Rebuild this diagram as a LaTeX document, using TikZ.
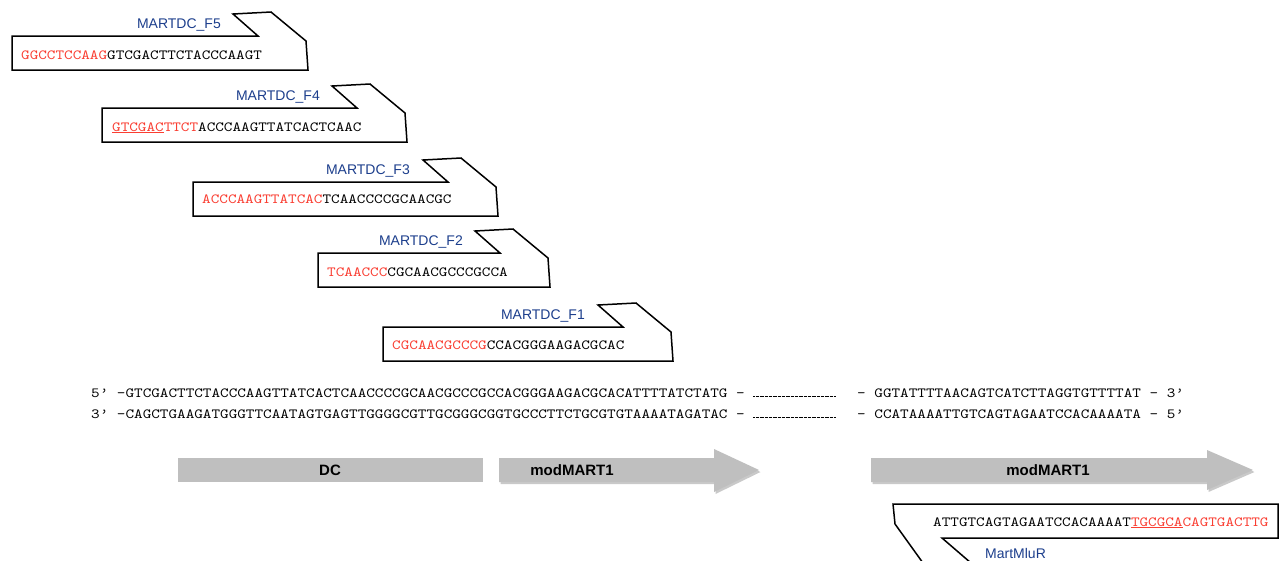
\documentclass[tikz,border=0pt]{standalone}
\usepackage{fontspec}
\usetikzlibrary{shadows}
\newfontfamily\labelfont{Liberation Sans}
\newfontfamily\seqfont{lmmono10-regular.otf}[FakeStretch=1.17]
\definecolor{seqred}{RGB}{250,62,50}
\definecolor{primerblue}{RGB}{28,62,140}
\definecolor{bargray}{RGB}{191,191,191}
\tikzset{
  primer/.style={draw=black, line width=1.5pt, line join=miter, fill=white},
  seq/.style={font=\seqfont\fontsize{14}{16}\selectfont, inner sep=0pt, anchor=base west},
  primername/.style={font=\labelfont\fontsize{14}{16}\selectfont, text=primerblue, inner sep=0pt},
  barlabel/.style={font=\labelfont\bfseries\fontsize{15}{17}\selectfont, inner sep=0pt},
  bararrow/.style={fill=bargray, drop shadow={shadow xshift=1.5pt, shadow yshift=-2pt, opacity=.3, fill=black!70}}
}
\begin{document}
\begin{tikzpicture}[x=1pt,y=-1pt]
\def\fwdprimer#1#2#3{\draw[primer] (#1,#2) -- (#3,#2) -- ++(-25,-22) -- ++(38,-2) -- ++(35,29) -- ++(2,29) -- (#1,#2+34) -- cycle;}
\useasboundingbox (0,0) rectangle (1282,560);
\clip (0,0) rectangle (1282,560);

        \fwdprimer{12}{36}{258}
\node[primername, anchor=base east] (f5name) at (221,28) {MARTDC\_F5};
\node[seq] (f5seq) at (21,59) {{\color{seqred}GGCCTCCAAG}GTCGACTTCTACCCAAGT};

        \fwdprimer{102}{108}{357}
\node[primername, anchor=base east] (f4name) at (320,100) {MARTDC\_F4};
\node[seq] (f4seq) at (112,131) {{\color{seqred}\underline{GTCGAC}TTCT}ACCCAAGTTATCACTCAAC};

        \fwdprimer{193}{182}{448}
\node[primername, anchor=base east] (f3name) at (410,174) {MARTDC\_F3};
\node[seq] (f3seq) at (202,203) {{\color{seqred}ACCCAAGTTATCAC}TCAACCCCGCAACGC};

        \fwdprimer{318}{253}{500}
\node[primername, anchor=base east] (f2name) at (463,245) {MARTDC\_F2};
\node[seq] (f2seq) at (327,276) {{\color{seqred}TCAACCC}CGCAACGCCCGCCA};

        \fwdprimer{383}{327}{623}
\node[primername, anchor=base east] (f1name) at (585,319) {MARTDC\_F1};
\node[seq] (f1seq) at (392,349) {{\color{seqred}CGCAACGCCCG}CCACGGGAAGACGCAC};

\node[seq] (top5) at (91,397) {5’ -GTCGACTTCTACCCAAGTTATCACTCAACCCCGCAACGCCCGCCACGGGAAGACGCACATTTTATCTATG –};
\node[seq] (top3) at (857,397) {– GGTATTTTAACAGTCATCTTAGGTGTTTTAT – 3’};
\node[seq] (bot3) at (91,418) {3’ -CAGCTGAAGATGGGTTCAATAGTGAGTTGGGGCGTTGCGGGCGGTGCCCTTCTGCGTGTAAAATAGATAC –};
\node[seq] (bot5) at (857,418) {– CCATAAAATTGTCAGTAGAATCCACAAAATA – 5’};
\draw[line width=1pt, dash pattern=on .7pt off .6pt] (753,396.5) -- (835,396.5);
\draw[line width=1pt, dash pattern=on .7pt off .6pt] (753,417.5) -- (835,417.5);

\fill[bargray] (178,458) rectangle (483,482);
\path[bararrow] (499,458) -- (714,458) -- (714,449) -- (759,470) -- (714,492) -- (714,482) -- (499,482) -- cycle;
\path[bararrow] (871,458) -- (1207,458) -- (1207,450) -- (1253,470) -- (1207,490) -- (1207,482) -- (871,482) -- cycle;
\node[barlabel] (dc) at (330,470) {DC};
\node[barlabel] (mart1) at (572,470) {modMART1};
\node[barlabel] (mart2) at (1048,470) {modMART1};

\draw[primer] (1278,504) -- (893,504) -- (895,524) -- (923,563) -- (971,563) -- (942,538) -- (1278,538) -- cycle;
\node[seq] (rseq) at (933,526) {ATTGTCAGTAGAATCCACAAAAT{\color{seqred}\underline{TGCGCA}CAGTGACTTG}};
\node[primername, anchor=base west] (rname) at (985,558) {MartMluR};
\end{tikzpicture}
\end{document}
